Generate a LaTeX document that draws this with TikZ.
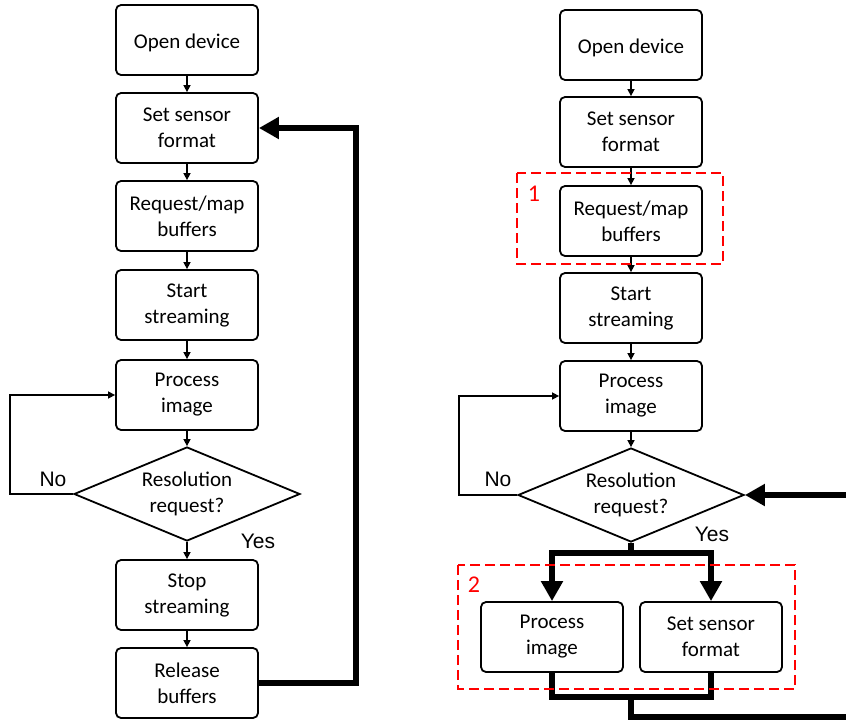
\documentclass[tikz,border=0pt]{standalone}
\usepackage{fontspec}
\setmainfont{Carlito}
\newfontfamily\arialf{Liberation Sans}
\usetikzlibrary{shapes.geometric,arrows.meta}
\definecolor{dashred}{RGB}{255,0,0}
\begin{document}
\begin{tikzpicture}[x=1pt,y=-1pt,
  box/.style={draw, line width=1.8pt, rounded corners=5pt, minimum width=142pt, minimum height=70pt, align=center, inner sep=0pt, font=\fontsize{21}{26}\selectfont, execute at begin node={\rule{0pt}{20pt}}},
  dec/.style={draw, diamond, line width=1.8pt, aspect=2.42, minimum width=226pt, minimum height=94pt, inner sep=0pt, align=center, font=\fontsize{21}{26}\selectfont, execute at begin node={\rule{0pt}{20pt}}},
  thinarr/.style={line width=1.5pt, -{Triangle[length=7pt,width=7pt]}},
  thickline/.style={line width=6pt},
  thickarr/.style={line width=6pt, -{Triangle[length=20pt,width=21pt]}},
  reddash/.style={draw=dashred, line width=2pt, dash pattern=on 10pt off 5pt},
  lab/.style={font=\arialf\fontsize{21}{25}\selectfont},
  numlab/.style={text=dashred, font=\fontsize{24}{28}\selectfont}]
\useasboundingbox (0,0) rectangle (846,723);

% left flow
\node[box] (a1) at (187,40) {Open device};
\node[box] (a2) at (187,128) {Set sensor\\format};
\node[box] (a3) at (187,216) {Request/map\\buffers};
\node[box] (a4) at (187,305) {Start\\streaming};
\node[box] (a5) at (187,395) {Process\\image};
\node[dec] (a6) at (187,494) {Resolution\\request?};
\node[box] (a7) at (187,595) {Stop\\streaming};
\node[box] (a8) at (187,683) {Release\\buffers};
\node[lab] (ano) at (53,479) {No};
\node[lab] (ayes) at (258,541) {Yes};

\draw[thinarr] (a1) -- (a2);
\draw[thinarr] (a2) -- (a3);
\draw[thinarr] (a3) -- (a4);
\draw[thinarr] (a4) -- (a5);
\draw[thinarr] (a5) -- (a6);
\draw[thinarr] (a6) -- (a7);
\draw[thinarr] (a7) -- (a8);
\draw[thinarr] (a6.west) -- ++(-63,0) |- (a5.west);
\draw[thickarr] (a8.east) -- ++(97,0) |- (a2.east);

% right flow
\node[box] (b1) at (631,45) {Open device};
\node[box] (b2) at (631,132) {Set sensor\\format};
\node[box] (b3) at (631,221) {Request/map\\buffers};
\node[box] (b4) at (631,308) {Start\\streaming};
\node[box] (b5) at (631,396) {Process\\image};
\node[dec] (b6) at (631,495) {Resolution\\request?};
\node[box] (b7) at (552,637) {Process\\image};
\node[box] (b8) at (711,637) {Set sensor\\format};
\node[lab] (bno) at (498,479) {No};
\node[lab] (byes) at (712,534) {Yes};

\draw[thinarr] (b1) -- (b2);
\draw[thinarr] (b2) -- (b3);
\draw[thinarr] (b3) -- (b4);
\draw[thinarr] (b4) -- (b5);
\draw[thinarr] (b5) -- (b6);
\draw[thinarr] (b6.west) -- ++(-58,0) |- (b5.west);

\coordinate (j1) at (631,553);
\coordinate (j2) at (631,697);
\coordinate (e1) at (846,717);
\coordinate (e2) at (846,495);
\draw[thickline] (b6.south) -- (j1);
\draw[thickarr] (j1) -| (b7.north);
\draw[thickarr] (j1) -| (b8.north);
\draw[thickline] (b7.south) |- (j2);
\draw[thickline] (b8.south) |- (j2);
\draw[thickline] (j2) |- (e1);
\draw[thickarr] (e2) -- (b6.east);

% dashed groups
\draw[reddash] (517,173) rectangle (723,264);
\node[numlab] (n1) at (534,194) {1};
\draw[reddash] (458,565) rectangle (795,689);
\node[numlab] (n2) at (474,585) {2};
\end{tikzpicture}
\end{document}
